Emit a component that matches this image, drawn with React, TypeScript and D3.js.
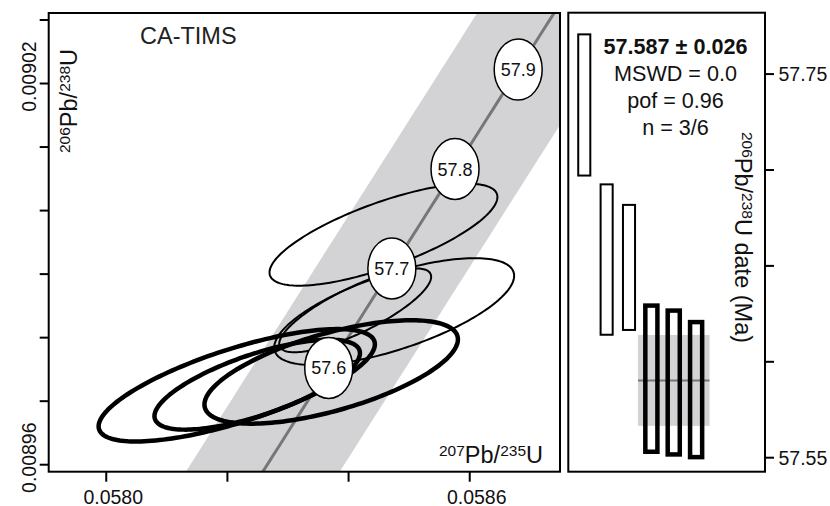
import React from "react";
import * as d3 from "d3";

// ---------- data ----------
// decay constants (per Ma)
const LAMBDA238 = 1.55125e-4;
const LAMBDA235 = 9.8485e-4;
const concordiaAgeTicks = [57.6, 57.7, 57.8, 57.9];
const concordiaAgeRange = [57.4, 58.05];
const bandHalfWidth = 0.000127; // 207Pb/235U units

// error ellipses (95% extents)
const ellX = [0.0584576, 0.0584753, 0.0584109, 0.0582154, 0.0582492, 0.0583713];
const ellY = [0.0089962, 0.0089841, 0.0089843, 0.0089725, 0.0089726, 0.0089746];
const ellDX = [0.0001881, 0.000198, 0.0001254, 0.000228, 0.0001696, 0.0002092];
const ellDY = [0.00000802, 0.00000841, 0.0000066, 0.00000885, 0.00000708, 0.00000814];
const ellRho = [0.74, 0.67, 0.8, 0.73, 0.7, 0.63];
const ellUsed = [false, false, false, true, true, true];

// weighted mean panel
const dateMean = [57.7339, 57.6533, 57.6492, 57.5912, 57.5892, 57.5855];
const dateErr = [0.0368, 0.0392, 0.0326, 0.0381, 0.0375, 0.0352];
const dateUsed = [false, false, false, true, true, true];
const wmMean = 57.5903;
const wmErr = 0.0237;
const wmLines = ["57.587 ± 0.026", "MSWD = 0.0", "pof = 0.96", "n = 3/6"];

const xTicks = [0.058, 0.0582, 0.0584, 0.0586];
const xTickLabels = ["0.0580", "", "", "0.0586"];
const yTicks = [0.00896, 0.00897, 0.00898, 0.00899, 0.009, 0.00901, 0.00902, 0.00903];
const yTickLabels = ["0.00896", "", "", "", "", "", "0.00902", ""];
const rTicks = [57.55, 57.6, 57.65, 57.7, 57.75];
const rTickLabels = ["57.55", "", "", "", "57.75"];

// ---------- layout ----------
const W = 830, H = 506;
const L = { x0: 48.7, x1: 560, y0: 13, y1: 471.7 };
const R = { x0: 568.3, x1: 765, y0: 12.7, y1: 471.7 };
const FONT = "'Liberation Sans', Arial, Helvetica, sans-serif";
const TXT = "#111";

const xL = d3.scaleLinear().domain([0.057905, 0.058749]).range([L.x0, L.x1]);
const yL = d3.scaleLinear().domain([0.0089589, 0.0090311]).range([L.y1, L.y0]);
const yR = d3.scaleLinear().domain([57.5427, 57.782]).range([R.y1, R.y0]);
const xR = d3.scaleLinear().domain([0.286, 9.08]).range([R.x0, R.x1]);

const conc = (t: number) => [Math.exp(LAMBDA235 * t) - 1, Math.exp(LAMBDA238 * t) - 1];

export default function App() {
  const lineGen = d3.line<number[]>().x((d) => xL(d[0])).y((d) => yL(d[1]));
  const ts = d3.range(concordiaAgeRange[0], concordiaAgeRange[1] + 1e-9, 0.01);
  const concPts = ts.map(conc);
  const bandPts = [
    ...concPts.map((p) => [p[0] - bandHalfWidth, p[1]]),
    ...concPts.slice().reverse().map((p) => [p[0] + bandHalfWidth, p[1]]),
  ];
  const thetas = d3.range(0, 2 * Math.PI, Math.PI / 90);
  const ellipsePath = (i: number) => {
    const r = ellRho[i];
    const pts = thetas.map((th) => [
      ellX[i] + ellDX[i] * Math.cos(th),
      ellY[i] + ellDY[i] * (r * Math.cos(th) + Math.sqrt(1 - r * r) * Math.sin(th)),
    ]);
    return d3.line<number[]>().x((d) => xL(d[0])).y((d) => yL(d[1])).curve(d3.curveLinearClosed)(pts) || "";
  };
  const order = [0, 1, 2, 3, 4, 5];
  const barHalf = 0.27;

  const sup = (s: string) => (
    <tspan fontSize={15.5} dy={-7}>{s}</tspan>
  );

  return (
    <svg width={W} height={H} style={{ position: "absolute", left: 0, top: 0, background: "#fff" }} fontFamily={FONT}>
      <defs>
        <clipPath id="clipL">
          <rect x={L.x0} y={L.y0} width={L.x1 - L.x0} height={L.y1 - L.y0} />
        </clipPath>
      </defs>
      <rect x={0} y={0} width={W} height={H} fill="#fff" />
      {/* left panel */}
      <g clipPath="url(#clipL)">
        <path d={lineGen(bandPts) || ""} fill="#d3d3d5" stroke="none" />
        <path d={lineGen(concPts) || ""} fill="none" stroke="#777" strokeWidth={3} />
        {order.map((i) => (
          <path key={i} d={ellipsePath(i)} fill="none" stroke="#000" strokeWidth={ellUsed[i] ? 4.5 : 2} />
        ))}
        {concordiaAgeTicks.map((t) => {
          const p = conc(t);
          return (
            <g key={t} transform={`translate(${xL(p[0])},${yL(p[1])})`}>
              <ellipse rx={24} ry={30.5} fill="#fff" stroke="#000" strokeWidth={1.5} />
              <text textAnchor="middle" dy={6.5} fontSize={18} fill={TXT}>{t.toFixed(1)}</text>
            </g>
          );
        })}
      </g>
      <rect x={L.x0} y={L.y0} width={L.x1 - L.x0} height={L.y1 - L.y0} fill="none" stroke="#000" strokeWidth={2} />
      <text x={140} y={44} fontSize={23.5} fill="#222">CA-TIMS</text>
      <text x={543} y={462.7} fontSize={23.5} textAnchor="end" fill={TXT}>
        {sup("207")}<tspan dy={7}>Pb/</tspan>{sup("235")}<tspan dy={7}>U</tspan>
      </text>
      <text transform="translate(77,101) rotate(-90)" fontSize={23.5} textAnchor="middle" fill={TXT}>
        {sup("206")}<tspan dy={7}>Pb/</tspan>{sup("238")}<tspan dy={7}>U</tspan>
      </text>
      {/* left axes */}
      {xTicks.map((v, i) => (
        <g key={v}>
          <line x1={xL(v)} x2={xL(v)} y1={L.y1} y2={L.y1 + 10} stroke="#000" strokeWidth={2} />
          <text x={xL(v) + 7} y={503.5} fontSize={19.5} textAnchor="middle" fill={TXT}>{xTickLabels[i]}</text>
        </g>
      ))}
      {yTicks.map((v, i) => (
        <g key={v}>
          <line x1={L.x0 - 9} x2={L.x0} y1={yL(v)} y2={yL(v)} stroke="#000" strokeWidth={2} />
          <text transform={`translate(36,${yL(v) - 7}) rotate(-90)`} fontSize={19.5} textAnchor="middle" fill={TXT}>{yTickLabels[i]}</text>
        </g>
      ))}

      {/* right panel */}
      <rect
        x={xR(4 - 0.6)}
        y={yR(wmMean + wmErr)}
        width={xR(6 + 0.6) - xR(4 - 0.6)}
        height={yR(wmMean - wmErr) - yR(wmMean + wmErr)}
        fill="#d3d3d5"
      />
      <line x1={xR(4 - 0.6)} x2={xR(6 + 0.6)} y1={yR(wmMean)} y2={yR(wmMean)} stroke="#777" strokeWidth={2} />
      {dateMean.map((m, i) => (
        <rect
          key={i}
          x={xR(i + 1 - barHalf)}
          y={yR(m + dateErr[i])}
          width={xR(i + 1 + barHalf) - xR(i + 1 - barHalf)}
          height={yR(m - dateErr[i]) - yR(m + dateErr[i])}
          fill="none"
          stroke="#000"
          strokeWidth={dateUsed[i] ? 4.5 : 2}
        />
      ))}
      <rect x={R.x0} y={R.y0} width={R.x1 - R.x0} height={R.y1 - R.y0} fill="none" stroke="#000" strokeWidth={2} />
      {wmLines.map((s, i) => (
        <text key={i} x={675.5} y={54 + i * 27} fontSize={21.6} textAnchor="middle" fontWeight={i === 0 ? "bold" : "normal"} fill={TXT}>{s}</text>
      ))}
      <text transform="translate(735,237.5) rotate(90)" fontSize={23.5} textAnchor="middle" fill={TXT}>
        {sup("206")}<tspan dy={7}>Pb/</tspan>{sup("238")}<tspan dy={7}>U date (Ma)</tspan>
      </text>
      {rTicks.map((v, i) => (
        <g key={v}>
          <line x1={R.x1} x2={R.x1 + 9} y1={yR(v)} y2={yR(v)} stroke="#000" strokeWidth={2} />
          <text x={778.5} y={yR(v) + 7} fontSize={19.5} fill={TXT}>{rTickLabels[i]}</text>
        </g>
      ))}
    </svg>
  );
}
